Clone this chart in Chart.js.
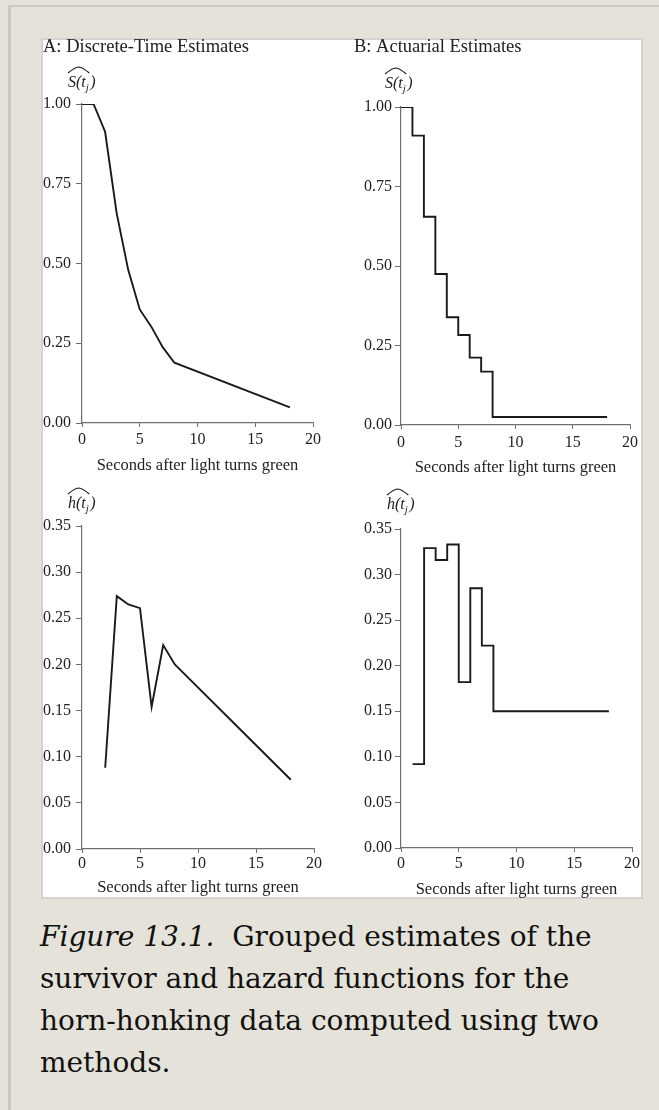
<!DOCTYPE html>
<html>
<head>
<meta charset="utf-8">
<script src="https://cdn.jsdelivr.net/npm/chart.js@4.4.1/dist/chart.umd.min.js"></script>
<style>
  html, body { margin: 0; padding: 0; }
  body { width: 659px; height: 1110px; background: #e5e3d9; position: relative; overflow: hidden; }
  .rule-top { position: absolute; left: 8px; right: 0; top: 5px; height: 2px; background: #c8c8c5; }
  .rule-left { position: absolute; left: 8px; top: 5px; bottom: 0; width: 3px; background: #c8c8c5; }
  .sheet { position: absolute; left: 41px; top: 38px; width: 598px; height: 857px; background: #fff; border: 2px solid #d3d3d1; }
  canvas { position: absolute; }
  #survDT  { left: 41px;  top: 38px; }
  #survAct { left: 330px; top: 38px; }
  #hazDT   { left: 41px;  top: 480px; }
  #hazAct  { left: 330px; top: 480px; }
  .caption { position: absolute; left: 40px; top: 916px; font-family: "DejaVu Serif"; font-size: 28px; line-height: 42px; color: #111; white-space: nowrap; }
</style>
</head>
<body>
<div class="rule-top"></div>
<div class="rule-left"></div>
<div class="sheet"></div>
<canvas id="survDT" width="289" height="442"></canvas>
<canvas id="survAct" width="312" height="442"></canvas>
<canvas id="hazDT" width="289" height="420"></canvas>
<canvas id="hazAct" width="312" height="420"></canvas>
<div class="caption"><i>Figure 13.1.</i>&nbsp; Grouped estimates of the<br>survivor and hazard functions for the<br>horn-honking data computed using two<br>methods.</div>

<script>
// seconds after the light turns green
const xTicks = [0, 5, 10, 15, 20];
const survTicks = [0, 0.25, 0.5, 0.75, 1];
const hazTicks = [0, 0.05, 0.1, 0.15, 0.2, 0.25, 0.3, 0.35];

// discrete-time estimates (points joined by straight lines)
const dtSurvTime = [0, 1, 2, 3, 4, 5, 6, 7, 8, 18];
const dtSurv     = [1.00, 1.00, 0.913, 0.658, 0.48, 0.356, 0.302, 0.237, 0.189, 0.049];
const dtHazTime  = [2, 3, 4, 5, 6, 7, 8, 18];
const dtHaz      = [0.088, 0.274, 0.265, 0.261, 0.154, 0.221, 0.200, 0.075];

// actuarial estimates (value held over each interval, last entry closes [8,18])
const actSurvTime = [0, 1, 2, 3, 4, 5, 6, 7, 8, 18];
const actSurv     = [1.00, 0.91, 0.655, 0.475, 0.339, 0.283, 0.212, 0.168, 0.025, 0.025];
const actHazTime  = [1, 2, 3, 4, 5, 6, 7, 8, 18];
const actHaz      = [0.092, 0.329, 0.316, 0.333, 0.182, 0.285, 0.222, 0.150, 0.150];

const serif = 'Liberation Serif';
const ink = '#222';
const axisGrey = '#6f6f6f';

// heading and the hatted y label, e.g. S(t_j) with a wide hat
const panelText = {
  id: 'panelText',
  afterDraw(chart, args, o) {
    const ctx = chart.ctx;
    const area = chart.chartArea;
    ctx.save();
    ctx.fillStyle = ink;
    ctx.textAlign = 'left';
    ctx.textBaseline = 'alphabetic';
    if (o.heading) {
      ctx.font = '18.5px "' + serif + '"';
      ctx.fillText(o.heading, o.headX, o.headY);
    }
    const x0 = area.left + o.labelDX;
    const base = area.top + o.labelDY;
    let x = x0;
    ctx.font = 'italic 16px "' + serif + '"';
    const head = o.symbol + '(t';
    ctx.fillText(head, x, base);
    x += ctx.measureText(head).width;
    ctx.font = 'italic 11px "' + serif + '"';
    ctx.fillText('j', x, base + 4);
    x += ctx.measureText('j').width + 1.5;
    ctx.font = 'italic 16px "' + serif + '"';
    ctx.fillText(')', x, base);
    const hatEnd = x - 1;
    // the hat
    const top = base - 20;
    ctx.strokeStyle = ink;
    ctx.lineWidth = 1.1;
    ctx.beginPath();
    ctx.moveTo(x0, top + 6);
    ctx.quadraticCurveTo(x0 + (hatEnd - x0) * 0.3, top + 0.5, (x0 + hatEnd) / 2, top);
    ctx.quadraticCurveTo(x0 + (hatEnd - x0) * 0.7, top + 0.5, hatEnd, top + 6);
    ctx.stroke();
    ctx.restore();
  }
};

function points(xs, ys) {
  return xs.map((t, i) => ({ x: t, y: ys[i] }));
}

function makeScales(p) {
  return {
    x: {
      type: 'linear',
      min: xTicks[0],
      max: xTicks[xTicks.length - 1],
      afterBuildTicks: s => { s.ticks = xTicks.map(v => ({ value: v })); },
      ticks: { color: ink, font: { family: serif, size: 16 }, padding: p.xPad, maxRotation: 0, autoSkip: false },
      grid: { drawOnChartArea: false, tickLength: 4, color: axisGrey, lineWidth: 1 },
      border: { color: axisGrey, width: 1.2 },
      title: {
        display: true,
        text: 'Seconds after light turns green',
        color: ink,
        font: { family: serif, size: 16.5 },
        padding: { top: 0, bottom: p.titlePad }
      },
      afterFit: s => { s.height = p.xHeight; }
    },
    y: {
      type: 'linear',
      min: p.yTicks[0],
      max: p.yTicks[p.yTicks.length - 1],
      afterBuildTicks: s => { s.ticks = p.yTicks.map(v => ({ value: v })); },
      ticks: { color: ink, font: { family: serif, size: 16 }, padding: p.yPad, callback: v => v.toFixed(2) },
      grid: { drawOnChartArea: false, tickLength: 6, color: axisGrey, lineWidth: 1 },
      border: { color: axisGrey, width: 1.2 },
      afterFit: s => { s.width = p.yWidth; }
    }
  };
}

function panel(id, xs, ys, stepped, p) {
  return new Chart(document.getElementById(id), {
    type: 'line',
    data: {
      datasets: [{
        data: points(xs, ys),
        borderColor: '#1a1a1a',
        borderWidth: 1.9,
        pointRadius: 0,
        tension: 0,
        stepped: stepped,
        fill: false
      }]
    },
    options: {
      responsive: false,
      animation: false,
      layout: { padding: p.pad },
      plugins: {
        legend: { display: false },
        tooltip: { enabled: false },
        panelText: p.text
      },
      scales: makeScales(p)
    },
    plugins: [panelText]
  });
}

panel('survDT', dtSurvTime, dtSurv, false, {
  pad: { left: 0, right: 17, top: 66, bottom: 0 },
  yTicks: survTicks, yWidth: 41, yPad: 5, xHeight: 57, xPad: 3, titlePad: 4,
  text: { heading: 'A: Discrete-Time Estimates', headX: 2, headY: 14, symbol: 'S', labelDX: -14, labelDY: -17 }
});

panel('survAct', actSurvTime, actSurv, true, {
  pad: { left: 0, right: 10, top: 69, bottom: 0 },
  yTicks: survTicks, yWidth: 71, yPad: 3, xHeight: 55, xPad: 4, titlePad: 2,
  text: { heading: 'B: Actuarial Estimates', headX: 24, headY: 14, symbol: 'S', labelDX: -16, labelDY: -19 }
});

panel('hazDT', dtHazTime, dtHaz, false, {
  pad: { left: 0, right: 16, top: 46, bottom: 0 },
  yTicks: hazTicks, yWidth: 41, yPad: 5, xHeight: 51, xPad: 1, titlePad: 2,
  text: { symbol: 'h', labelDX: -14, labelDY: -18 }
});

panel('hazAct', actHazTime, actHaz, true, {
  pad: { left: 0, right: 10, top: 49, bottom: 0 },
  yTicks: hazTicks, yWidth: 71, yPad: 3, xHeight: 52, xPad: 2, titlePad: 0,
  text: { symbol: 'h', labelDX: -14, labelDY: -20 }
});
</script>
</body>
</html>
